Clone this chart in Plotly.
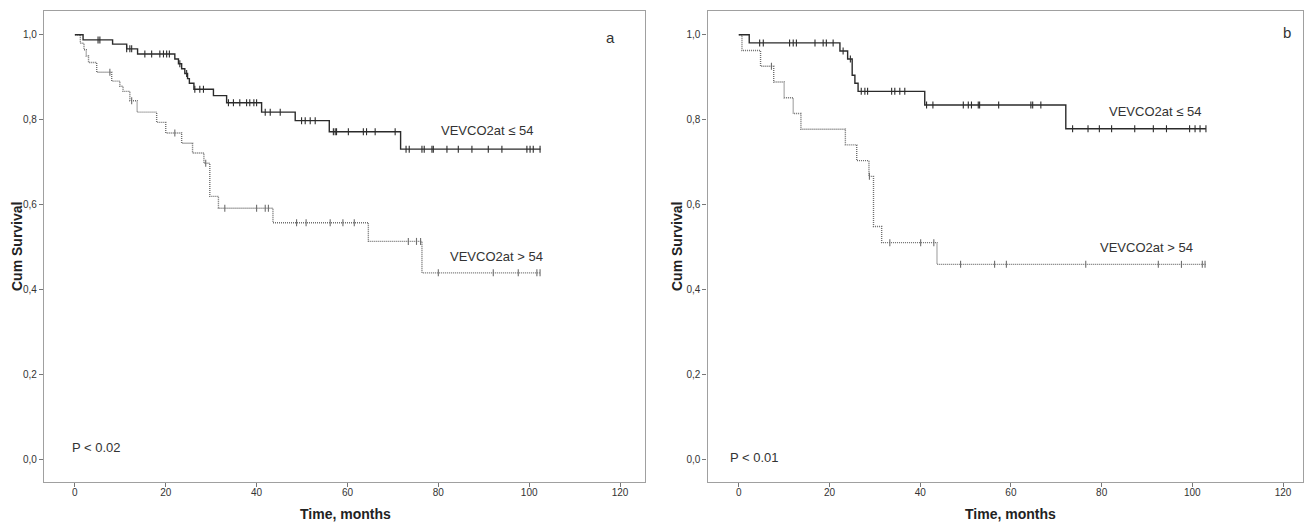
import numpy as np
import plotly.graph_objects as go

# ---------------- Panel a ----------------
a_low_t = [0, 1.8, 8.3, 11.4, 13.8, 22.0, 22.8, 23.5, 24.2, 24.8, 25.2, 26.2, 30.5, 33.4, 41.1, 48.5, 56.0, 71.7]
a_low_s = [1.0, 0.988, 0.978, 0.967, 0.955, 0.943, 0.932, 0.920, 0.909, 0.897, 0.886, 0.872, 0.857, 0.840, 0.818, 0.798, 0.772, 0.731]
a_low_end = 102.5
a_low_cens = [5.1, 5.5, 11.4, 12.1, 12.5, 15.4, 16.9, 18.7, 19.5, 20.2, 20.8, 23.1, 24.6, 26.4, 27.5, 28.3,
              33.8, 34.9, 36.3, 37.8, 38.5, 39.4, 40.0, 41.9, 43.0, 45.2, 49.9, 50.7, 51.8, 52.9,
              56.9, 57.3, 57.6, 60.2, 63.5, 64.2, 66.1, 70.5, 72.9, 73.6, 76.4, 76.9, 78.6, 78.9,
              81.9, 84.4, 87.4, 91.0, 94.0, 99.5, 100.2, 100.9, 102.4]

a_high_t = [0, 1.2, 2.0, 2.5, 3.0, 4.8, 8.1, 9.9, 10.6, 12.1, 13.7, 18.0, 20.0, 23.5, 25.9, 28.4, 29.7, 31.6, 43.6, 64.6, 76.4]
a_high_s = [1.0, 0.980, 0.965, 0.950, 0.935, 0.912, 0.891, 0.879, 0.867, 0.845, 0.818, 0.794, 0.769, 0.745, 0.722, 0.698, 0.620, 0.592, 0.558, 0.514, 0.440]
a_high_end = 102.5
a_high_cens = [7.7, 12.5, 22.0, 28.8, 33.0, 40.0, 41.9, 42.6, 48.8, 50.9, 56.2, 59.0, 61.5,
               73.4, 75.2, 76.1, 80.0, 92.1, 97.6, 101.7, 102.4]

# ---------------- Panel b ----------------
b_low_t = [0, 2.3, 22.3, 24.0, 25.0, 25.6, 26.3, 41.0, 72.1]
b_low_s = [1.0, 0.981, 0.962, 0.943, 0.905, 0.886, 0.867, 0.835, 0.779]
b_low_end = 103.0
b_low_cens = [4.6, 5.4, 11.2, 12.0, 12.7, 16.8, 18.6, 19.3, 20.8, 23.0, 24.6, 27.0, 27.8, 28.4,
              33.7, 34.4, 35.5, 36.6, 41.4, 42.8, 49.5, 50.6, 51.3, 52.8, 53.1, 57.3, 64.4, 64.8, 66.6,
              73.6, 77.0, 79.5, 82.2, 87.3, 91.4, 94.3, 99.4, 100.6, 101.7, 103.0]

b_high_t = [0, 0.7, 4.8, 7.7, 10.0, 12.0, 13.7, 23.5, 26.0, 28.7, 29.7, 31.5, 43.7]
b_high_s = [1.0, 0.963, 0.926, 0.889, 0.852, 0.815, 0.778, 0.741, 0.704, 0.667, 0.549, 0.511, 0.460]
b_high_end = 103.0
b_high_cens = [7.2, 28.8, 33.3, 40.1, 43.0, 48.9, 56.4, 59.0, 76.5, 92.5, 97.6, 102.2, 102.8]

y_tickvals = [0.0, 0.2, 0.4, 0.6, 0.8, 1.0]
y_ticktext = ["0,0", "0,2", "0,4", "0,6", "0,8", "1,0"]
x_tickvals = [0, 20, 40, 60, 80, 100, 120]

labels = ["VEVCO2at \u2264 54", "VEVCO2at > 54"]
p_texts = ["P < 0.02", "P < 0.01"]
panel_tags = ["a", "b"]

FONT = "Arial, Liberation Sans, sans-serif"
W, H = 1306, 524
DARK = "#2b2b2b"
GREY = "#6e6e6e"

fig = go.Figure()


def step_value(times, surv, t):
    idx = np.searchsorted(np.asarray(times), t, side="right") - 1
    return float(np.asarray(surv)[max(idx, 0)])


def add_curve(times, surv, end, cens, xa, ya, color, dash, width):
    xs = list(times) + [end]
    ys = list(surv) + [surv[-1]]
    fig.add_trace(go.Scatter(x=xs, y=ys, mode="lines", line_shape="hv",
                             line=dict(color=color, width=width, dash=dash),
                             xaxis=xa, yaxis=ya, showlegend=False, hoverinfo="skip"))
    cy = [step_value(times, surv, c) for c in cens]
    fig.add_trace(go.Scatter(x=cens, y=cy, mode="markers",
                             marker=dict(symbol="line-ns-open", size=5, color=color,
                                         line=dict(color=color, width=1.1)),
                             xaxis=xa, yaxis=ya, showlegend=False, hoverinfo="skip"))


add_curve(a_high_t, a_high_s, a_high_end, a_high_cens, "x", "y", GREY, "1px,1px", 1.4)
add_curve(a_low_t, a_low_s, a_low_end, a_low_cens, "x", "y", DARK, "solid", 1.4)
add_curve(b_high_t, b_high_s, b_high_end, b_high_cens, "x2", "y2", GREY, "1px,1px", 1.4)
add_curve(b_low_t, b_low_s, b_low_end, b_low_cens, "x2", "y2", DARK, "solid", 1.4)

ydom = [1 - 482 / H, 1 - 11 / H]
axis_common = dict(showline=True, mirror=True, linecolor="#a0a0a0", linewidth=1.2,
                   ticks="outside", ticklen=4, tickcolor="#777", showgrid=False,
                   zeroline=False, tickfont=dict(family=FONT, size=10, color="#333"))

fig.update_layout(
    width=W, height=H,
    margin=dict(l=0, r=0, t=0, b=0),
    paper_bgcolor="white", plot_bgcolor="white",
    xaxis=dict(domain=[44 / W, 645 / W], range=[-6.8, 125.5], tickvals=x_tickvals,
               anchor="y", ticklabelstandoff=-3, **axis_common),
    yaxis=dict(domain=ydom, range=[-0.052, 1.056], tickvals=y_tickvals, ticktext=y_ticktext,
               anchor="x", **axis_common),
    xaxis2=dict(domain=[707.5 / W, 1303 / W], range=[-6.9, 124.4], tickvals=x_tickvals,
                anchor="y2", ticklabelstandoff=-3, **axis_common),
    yaxis2=dict(domain=ydom, range=[-0.052, 1.056], tickvals=y_tickvals, ticktext=y_ticktext,
                anchor="x2", **axis_common),
)

ann_font = dict(family=FONT, size=13, color="#333")
title_font = dict(family=FONT, size=14, color="#222")

annotations = [
    # curve labels
    dict(x=90.7, y=0.774, xref="x", yref="y", text=labels[0], showarrow=False, font=ann_font),
    dict(x=92.7, y=0.478, xref="x", yref="y", text=labels[1], showarrow=False, font=ann_font),
    dict(x=91.7, y=0.820, xref="x2", yref="y2", text=labels[0], showarrow=False, font=ann_font),
    dict(x=90.0, y=0.500, xref="x2", yref="y2", text=labels[1], showarrow=False, font=ann_font),
    # p-values
    dict(x=-1.1, y=0.03, xref="x", yref="y", text=p_texts[0], showarrow=False,
         xanchor="left", font=ann_font),
    dict(x=-2.3, y=0.005, xref="x2", yref="y2", text=p_texts[1], showarrow=False,
         xanchor="left", font=ann_font),
    # panel tags
    dict(x=117.8, y=0.993, xref="x", yref="y", text=panel_tags[0], showarrow=False,
         font=dict(family=FONT, size=15, color="#333")),
    dict(x=120.8, y=1.005, xref="x2", yref="y2", text=panel_tags[1], showarrow=False,
         font=dict(family=FONT, size=15, color="#333")),
    # axis titles
    dict(x=17 / W, y=1 - 247 / H, xref="paper", yref="paper", text="<b>Cum Survival</b>",
         textangle=-90, showarrow=False, xanchor="center", yanchor="middle", font=title_font),
    dict(x=677 / W, y=1 - 247 / H, xref="paper", yref="paper", text="<b>Cum Survival</b>",
         textangle=-90, showarrow=False, xanchor="center", yanchor="middle", font=title_font),
    dict(x=345 / W, y=1 - 514 / H, xref="paper", yref="paper", text="<b>Time, months</b>",
         showarrow=False, xanchor="center", yanchor="middle", font=title_font),
    dict(x=1010 / W, y=1 - 514 / H, xref="paper", yref="paper", text="<b>Time, months</b>",
         showarrow=False, xanchor="center", yanchor="middle", font=title_font),
]
fig.update_layout(annotations=annotations)

fig.write_html("out.html", config={"displayModeBar": False},
               post_script="document.body.style.margin='0';document.body.style.overflow='hidden';")
